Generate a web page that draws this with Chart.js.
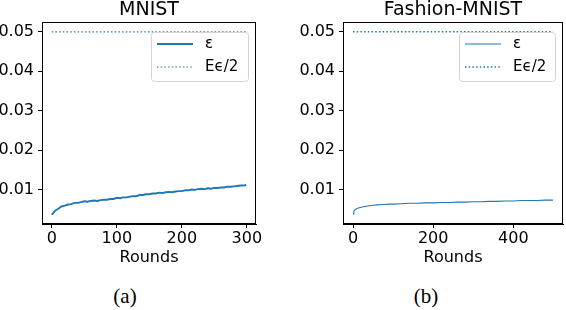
<!DOCTYPE html>
<html>
<head>
<meta charset="utf-8">
<script src="https://cdn.jsdelivr.net/npm/chart.js@4/dist/chart.umd.min.js"></script>
<style>
  html, body { margin:0; padding:0; background:#fff; width:566px; height:310px; overflow:hidden; }
  .wrap { position:absolute; top:0; }
  .cap { position:absolute; font-family:"Liberation Serif","Times New Roman",serif; font-size:21px; color:#000; transform:translateX(-50%); top:284px; }
</style>
</head>
<body>
<div class="wrap" style="left:0;width:283px;height:267px;"><canvas id="c1" width="283" height="267"></canvas></div>
<div class="wrap" style="left:283px;width:283px;height:267px;"><canvas id="c2" width="283" height="267"></canvas></div>
<div class="cap" style="left:125px;">(a)</div>
<div class="cap" style="left:426px;">(b)</div>
<script>
// ---------------- data ----------------
const mnistTitle = "MNIST";
const fashionTitle = "Fashion-MNIST";
const xLabel = "Rounds";
const legendLabels = ["ε", "Eϵ/2"];

const mnistRounds = [0,5,10,15,20,25,30,35,40,45,50,55,60,65,70,75,80,85,90,95,100,105,110,115,120,125,130,135,140,145,150,155,160,165,170,175,180,185,190,195,200,205,210,215,220,225,230,235,240,245,250,255,260,265,270,275,280,285,290,295,299];
const mnistEps = [0.0036,0.0046,0.0051,0.0057,0.0059,0.0062,0.0063,0.0066,0.0066,0.0068,0.0070,0.0069,0.0071,0.0072,0.0071,0.0073,0.0074,0.0074,0.0076,0.0076,0.0079,0.0078,0.0080,0.0080,0.0082,0.0083,0.0083,0.0086,0.0086,0.0088,0.0088,0.0090,0.0090,0.0092,0.0091,0.0093,0.0094,0.0093,0.0095,0.0096,0.0096,0.0098,0.0098,0.0100,0.0099,0.0101,0.0102,0.0101,0.0103,0.0102,0.0104,0.0104,0.0105,0.0105,0.0107,0.0107,0.0108,0.0109,0.0110,0.0110,0.0112];
const mnistBound = [0.05, 0.05];
const mnistBoundRounds = [0, 299];

const fashionRounds = [0,2,5,10,20,30,40,50,60,70,80,90,100,120,140,160,180,200,220,240,260,280,300,320,340,360,380,400,420,440,460,480,499];
const fashionEps = [0.0038,0.0044,0.0049,0.0052,0.0055,0.0057,0.0059,0.0060,0.0061,0.0062,0.0062,0.0063,0.0063,0.0064,0.0065,0.0065,0.0066,0.0066,0.0067,0.0067,0.0068,0.0068,0.0069,0.0069,0.0070,0.0070,0.0071,0.0071,0.0072,0.0072,0.0072,0.0073,0.0073];
const fashionBound = [0.05, 0.05];
const fashionBoundRounds = [0, 499];

const yTicks = [0.01, 0.02, 0.03, 0.04, 0.05];
const mnistXTicks = [0, 100, 200, 300];
const fashionXTicks = [0, 200, 400];

// ---------------- helpers ----------------
const BLUE = '#1f77b4';
const FONT = '"DejaVu Sans", sans-serif';
function pts(xs, ys) { return xs.map((x, i) => ({x: x, y: ys[i]})); }

const framePlugin = {
  id: 'frame',
  afterDraw(chart, args, opts) {
    const {ctx, chartArea: a} = chart;
    ctx.save();
    ctx.fillStyle = '#000';
    ctx.font = '19px ' + FONT;
    ctx.textAlign = 'center';
    ctx.textBaseline = 'alphabetic';
    ctx.fillText(opts.title, (a.left + a.right) / 2, 15);
    ctx.strokeStyle = '#000';
    ctx.lineWidth = 1;
    ctx.strokeRect(Math.round(a.left) + 0.5, Math.round(a.top) + 0.5, Math.round(a.right - a.left) - 1, Math.round(a.bottom - a.top) - 1);
    const bx = a.right - opts.legendRight, by = a.top + 10, bw = opts.legendW, bh = 49;
    ctx.beginPath();
    ctx.roundRect(bx + 0.5, by + 0.5, bw, bh, 3);
    ctx.fillStyle = 'rgba(255,255,255,0.8)';
    ctx.fill();
    ctx.strokeStyle = '#d4d4d4';
    ctx.stroke();
    const ds = chart.data.datasets;
    for (let i = 0; i < 2; i++) {
      const y = by + 12 + i * 23;
      ctx.beginPath();
      ctx.setLineDash(ds[i].borderDash || []);
      ctx.lineWidth = ds[i].borderWidth;
      ctx.strokeStyle = BLUE;
      ctx.moveTo(bx + 6, y);
      ctx.lineTo(bx + 42, y);
      ctx.stroke();
      ctx.setLineDash([]);
      ctx.fillStyle = '#000';
      ctx.font = '15px ' + FONT;
      ctx.textAlign = 'left';
      ctx.textBaseline = 'middle';
      ctx.fillText(ds[i].label, bx + 54, y);
    }
    ctx.restore();
  }
};

function makeChart(id, xs, ys, bxs, bys, xTicks, xmin, xmax, title, epsWidth, dotWidth, padRight, legendRight, legendW) {
  return new Chart(document.getElementById(id), {
    type: 'line',
    data: {
      datasets: [
        { label: legendLabels[0], data: pts(xs, ys), borderColor: BLUE, borderWidth: epsWidth, pointRadius: 0, tension: 0, fill: false },
        { label: legendLabels[1], data: pts(bxs, bys), borderColor: BLUE, borderWidth: dotWidth, borderDash: [1.5, 2.2], pointRadius: 0, tension: 0, fill: false }
      ]
    },
    plugins: [framePlugin],
    options: {
      responsive: false,
      animation: false,
      events: [],
      layout: { padding: { left: 0, top: 22, right: padRight, bottom: 0 } },
      plugins: { legend: { display: false }, tooltip: { enabled: false }, title: { display: false },
                 frame: { title: title, legendRight: legendRight, legendW: legendW } },
      scales: {
        x: {
          type: 'linear', min: xmin, max: xmax,
          afterBuildTicks: s => { s.ticks = xTicks.map(v => ({value: v})); },
          afterFit: s => { s.height = 43; },
          ticks: { color: '#000', font: { family: FONT, size: 16 }, padding: 1, maxRotation: 0, callback: v => String(v) },
          grid: { drawOnChartArea: false, drawTicks: true, tickLength: 4, color: '#000' },
          border: { display: true, color: '#000', width: 1 },
          title: { display: true, text: xLabel, color: '#000', font: { family: FONT, size: 16 }, padding: { top: 0, bottom: 0 } }
        },
        y: {
          type: 'linear', min: 0.00125, max: 0.0525,
          afterBuildTicks: s => { s.ticks = yTicks.map(v => ({value: v})); },
          afterFit: s => { s.width = padRight > 10 ? 42 : 60; },
          ticks: { color: '#000', font: { family: FONT, size: 16 }, padding: 4, callback: v => v.toFixed(2) },
          grid: { drawOnChartArea: false, drawTicks: true, tickLength: 4, color: '#000' },
          border: { display: true, color: '#000', width: 1 }
        }
      }
    }
  });
}

makeChart('c1', mnistRounds, mnistEps, mnistBoundRounds, mnistBound, mnistXTicks, -15, 314, mnistTitle, 1.9, 1.2, 27, 105, 97);
makeChart('c2', fashionRounds, fashionEps, fashionBoundRounds, fashionBound, fashionXTicks, -25, 524, fashionTitle, 1.1, 1.5, 3, 104, 96);
</script>
</body>
</html>
